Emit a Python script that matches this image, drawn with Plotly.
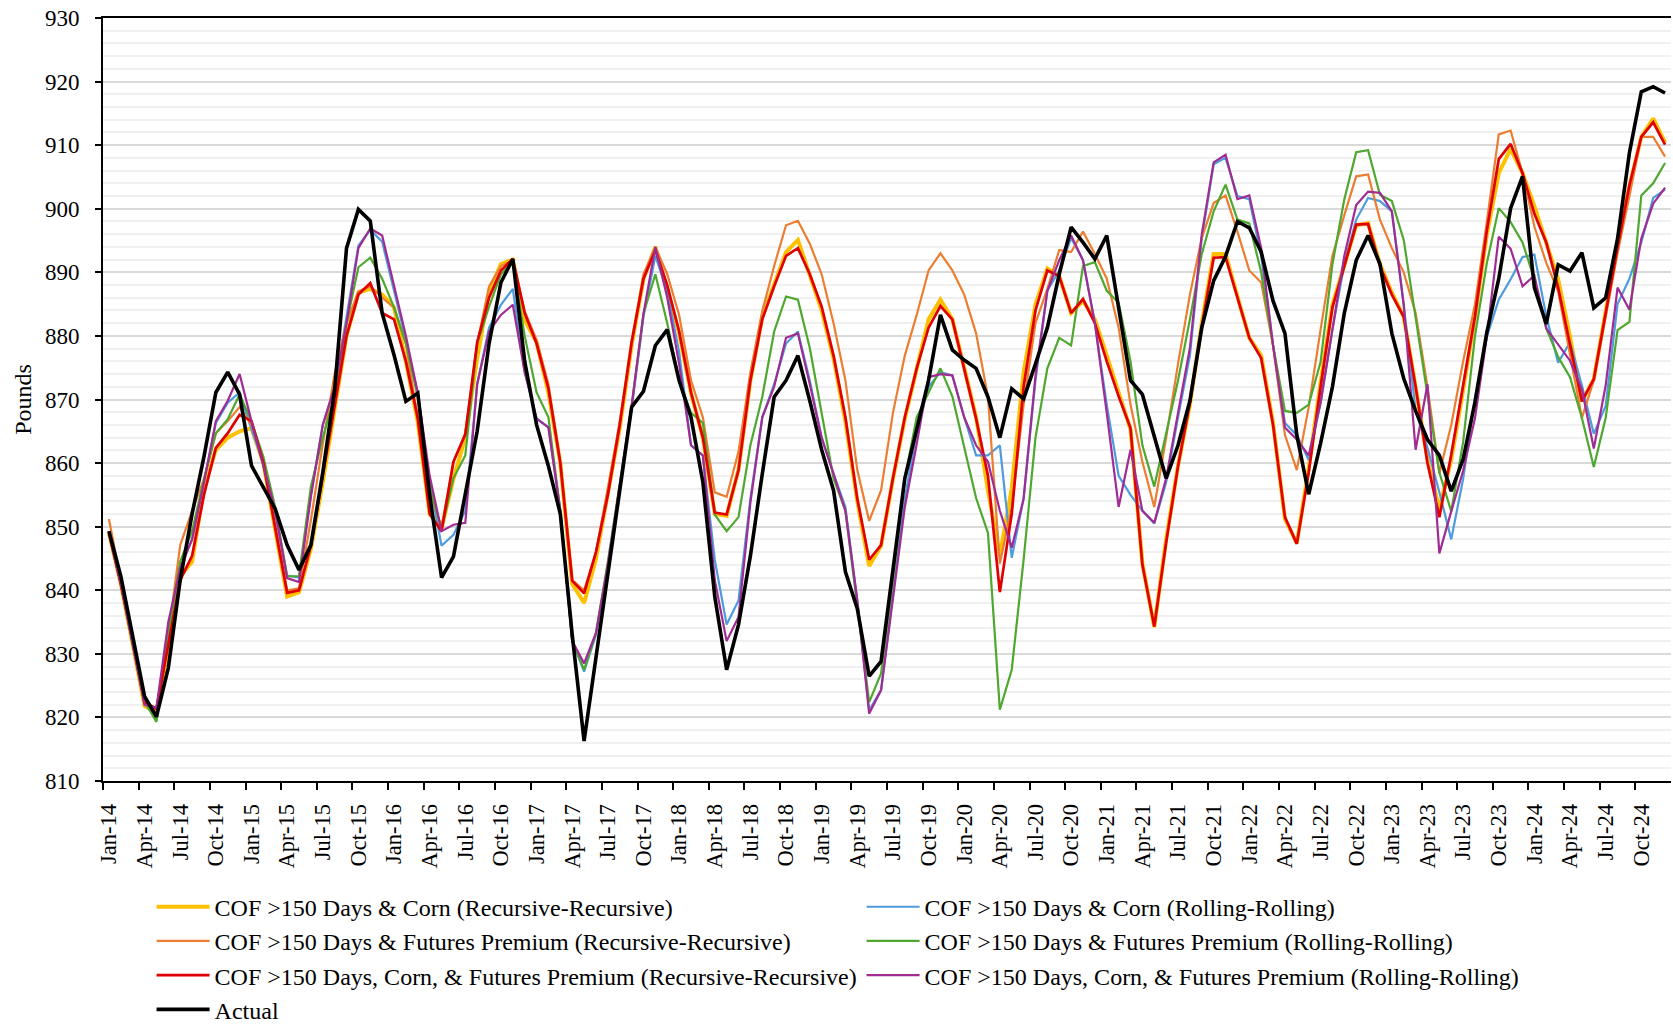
import plotly.graph_objects as go

MONTHS = ["Jan", "Feb", "Mar", "Apr", "May", "Jun", "Jul", "Aug", "Sep", "Oct", "Nov", "Dec"]
YEARS = list(range(2014, 2025))
month_labels = [f"{m}-{y % 100:02d}" for y in YEARS for m in MONTHS]

actual = [
    849.3, 842.2, 832.8, 823.3, 820.1, 827.8, 841.6, 852.0, 861.0, 871.1, 874.3, 870.8,
    859.6, 856.3, 852.8, 847.1, 843.2, 847.1, 858.5, 871.5, 893.8, 899.9, 898.1, 883.6,
    877.0, 869.7, 871.0, 855.0, 842.0, 845.3, 855.0, 865.0, 878.8, 888.4, 892.1, 876.0,
    866.0, 859.5, 852.0, 833.0, 816.3, 829.5, 842.5, 855.5, 868.8, 871.3, 878.5, 881.0,
    873.0, 867.2, 857.0, 839.0, 827.5, 834.6, 845.4, 858.3, 870.4, 873.0, 876.9, 869.8,
    862.1, 855.7, 842.9, 837.1, 826.5, 828.8, 843.5, 857.6, 865.3, 873.0, 883.3, 877.8,
    876.2, 874.9, 870.4, 864.0, 871.7, 870.1, 875.6, 881.3, 889.7, 897.1, 894.7, 892.1,
    895.8, 884.6, 873.0, 870.8, 864.0, 857.6, 862.8, 869.8, 881.3, 888.7, 892.5, 898.0,
    897.0, 893.2, 885.5, 880.4, 864.4, 855.1, 863.1, 872.0, 883.6, 891.9, 895.8, 891.3,
    880.4, 873.3, 868.2, 863.7, 861.2, 855.6, 860.6, 869.6, 880.6, 889.0, 900.1, 905.1,
    887.6, 881.9, 891.2, 890.2, 893.1, 884.4, 886.0, 895.3, 908.8, 918.4, 919.2, 918.2,
]

corn_rr = [
    849.0, 841.0, 831.5, 821.8, 820.8, 831.0, 842.2, 844.5, 856.0, 862.1, 864.0, 865.0,
    865.5, 860.0, 849.5, 839.0, 839.7, 846.5, 857.0, 868.5, 880.0, 886.8, 887.4, 886.5,
    884.5, 876.0, 866.5, 852.0, 849.8, 857.5, 864.0, 876.5, 887.0, 891.3, 892.0, 882.5,
    879.0, 871.0, 860.0, 841.0, 838.0, 845.0, 855.0, 865.5, 878.5, 889.0, 894.0, 887.5,
    880.5, 871.0, 864.0, 852.0, 851.7, 859.0, 873.0, 883.0, 888.0, 893.2, 895.1, 889.7,
    884.0, 876.5, 866.5, 854.0, 843.8, 847.0, 857.5, 867.0, 875.0, 882.6, 885.7, 882.6,
    875.0, 867.2, 855.7, 845.4, 856.0, 874.3, 884.9, 890.6, 889.4, 883.6, 885.5, 882.6,
    876.9, 871.1, 865.3, 844.2, 834.2, 848.0, 859.6, 869.2, 882.0, 892.9, 892.9, 886.2,
    879.7, 876.9, 866.3, 851.2, 847.4, 859.2, 872.7, 884.9, 891.3, 897.4, 897.7, 891.3,
    886.8, 883.0, 872.0, 860.5, 852.8, 860.5, 871.5, 883.0, 896.0, 905.6, 909.4, 905.6,
    900.4, 894.7, 888.9, 879.9, 869.7, 873.2, 884.0, 894.5, 903.5, 911.3, 914.2, 910.4,
]

corn_roll = [
    849.0, 841.0, 831.5, 822.0, 821.0, 834.0, 843.5, 848.0, 857.0, 866.3, 869.5, 871.1,
    865.3, 860.0, 852.0, 842.3, 842.0, 855.0, 866.0, 872.0, 883.0, 894.2, 896.7, 894.8,
    887.1, 879.4, 871.0, 857.0, 847.0, 848.7, 852.5, 872.4, 881.3, 884.9, 887.4, 874.3,
    867.0, 865.6, 852.5, 832.0, 827.2, 833.0, 844.0, 856.5, 868.5, 883.0, 892.6, 887.0,
    877.5, 862.8, 861.2, 844.8, 834.6, 838.4, 854.4, 867.2, 872.4, 878.8, 880.7, 873.0,
    864.0, 858.3, 853.1, 838.4, 821.1, 824.3, 839.7, 854.4, 865.0, 872.0, 874.3, 873.8,
    867.2, 861.2, 861.2, 862.8, 845.1, 854.4, 873.0, 887.1, 890.3, 895.4, 891.9, 882.0,
    869.2, 858.0, 855.0, 852.5, 850.5, 857.0, 867.2, 876.9, 895.4, 907.0, 908.0, 902.0,
    901.5, 892.6, 878.5, 866.3, 864.4, 860.5, 869.5, 881.0, 891.3, 898.3, 901.7, 901.2,
    899.6, 884.9, 868.2, 862.4, 855.4, 848.0, 857.5, 870.3, 879.9, 885.7, 888.9, 892.4,
    892.8, 883.1, 875.8, 879.0, 872.2, 864.6, 869.0, 885.0, 889.0, 894.7, 901.7, 903.0,
]

fp_rr = [
    851.2, 841.5, 831.5, 822.0, 821.0, 833.0, 847.1, 852.5, 857.5, 864.7, 866.6, 868.8,
    866.0, 860.5, 850.0, 840.0, 840.3, 851.0, 863.0, 874.0, 882.0, 887.0, 887.8, 886.0,
    884.5, 878.8, 867.0, 855.7, 849.9, 860.2, 864.7, 878.8, 887.8, 891.0, 891.9, 883.9,
    879.4, 872.4, 860.2, 841.6, 840.0, 846.0, 856.0, 866.5, 878.5, 889.7, 894.0, 889.7,
    883.3, 873.0, 867.2, 855.4, 854.7, 861.8, 874.3, 883.9, 891.0, 897.4, 898.1, 894.5,
    889.7, 882.0, 873.0, 858.9, 850.9, 855.7, 867.9, 876.9, 883.3, 890.3, 893.0, 890.3,
    886.5, 880.4, 870.4, 844.2, 853.1, 869.2, 882.0, 887.4, 893.5, 893.2, 896.4, 892.9,
    889.0, 881.3, 869.2, 860.2, 853.1, 864.0, 875.6, 886.5, 895.4, 900.9, 902.1, 896.4,
    890.3, 888.4, 878.5, 864.4, 858.9, 868.8, 881.0, 892.6, 899.0, 905.1, 905.4, 898.3,
    893.8, 890.0, 883.6, 872.0, 858.4, 866.0, 876.0, 885.0, 898.0, 911.7, 912.3, 905.6,
    897.2, 891.5, 887.0, 877.0, 867.1, 873.0, 883.0, 893.0, 902.0, 911.3, 911.3, 908.2,
]

fp_roll = [
    849.0, 841.0, 831.5, 822.5, 819.3, 833.0, 844.5, 849.3, 857.5, 864.7, 866.9, 870.8,
    866.6, 861.0, 853.0, 842.2, 842.2, 856.3, 864.0, 870.5, 882.0, 890.8, 892.3, 889.0,
    884.5, 878.8, 870.4, 856.3, 849.6, 857.6, 861.2, 878.8, 884.6, 889.7, 891.6, 880.0,
    871.1, 867.2, 852.5, 832.0, 827.5, 833.3, 844.5, 857.0, 869.0, 883.5, 889.7, 882.0,
    873.0, 867.9, 866.3, 851.9, 849.3, 851.5, 862.8, 870.4, 880.7, 886.2, 885.7, 878.1,
    867.9, 857.6, 852.5, 837.8, 822.4, 826.9, 841.6, 857.6, 867.2, 871.1, 874.9, 870.5,
    862.5, 854.5, 849.0, 821.2, 827.5, 844.8, 864.0, 874.9, 879.7, 878.5, 891.0, 891.6,
    887.1, 885.2, 876.0, 862.8, 856.3, 864.7, 873.0, 882.6, 892.9, 899.6, 903.8, 898.3,
    897.7, 890.0, 878.5, 868.2, 867.9, 869.2, 875.9, 891.3, 901.5, 908.9, 909.2, 902.2,
    901.2, 895.1, 883.0, 870.8, 858.5, 852.4, 863.3, 880.0, 891.5, 900.1, 897.9, 894.7,
    888.9, 881.2, 876.7, 873.5, 867.1, 859.4, 867.1, 880.9, 882.2, 902.1, 904.0, 907.2,
]

all_rr = [
    849.0, 841.0, 832.0, 822.3, 821.4, 831.5, 841.6, 845.4, 855.0, 862.4, 864.7, 867.6,
    866.6, 860.0, 850.0, 839.6, 840.0, 847.0, 858.0, 869.0, 880.0, 886.5, 888.3, 883.6,
    882.6, 876.0, 867.0, 852.0, 849.3, 860.2, 864.5, 879.0, 886.0, 890.3, 892.1, 883.6,
    878.8, 871.7, 860.0, 841.5, 839.5, 846.0, 855.0, 866.0, 879.0, 889.0, 893.5, 888.0,
    880.7, 871.1, 864.0, 852.2, 851.9, 858.9, 873.0, 882.6, 887.8, 892.6, 893.8, 889.7,
    884.6, 876.9, 867.2, 854.4, 844.8, 847.1, 857.6, 867.2, 874.9, 881.3, 884.7, 882.6,
    875.0, 867.0, 858.0, 839.7, 852.0, 872.0, 884.0, 890.3, 889.4, 883.6, 885.8, 882.0,
    876.0, 870.5, 865.5, 844.0, 834.3, 847.5, 859.5, 869.5, 881.5, 892.3, 892.4, 886.0,
    879.7, 876.5, 866.0, 851.5, 847.3, 858.5, 872.0, 884.5, 891.0, 897.5, 897.6, 891.0,
    886.5, 883.0, 872.0, 860.0, 851.5, 861.3, 872.2, 883.1, 896.6, 907.8, 910.2, 905.6,
    899.2, 894.7, 887.6, 878.7, 869.7, 873.2, 883.8, 894.0, 903.7, 911.3, 913.6, 910.1,
]

all_roll = [
    849.0, 841.0, 831.5, 822.0, 821.5, 835.0, 843.5, 848.0, 857.0, 866.6, 869.8, 874.0,
    866.6, 859.6, 852.5, 841.9, 841.3, 854.7, 866.0, 872.0, 882.0, 893.8, 896.9, 895.8,
    887.8, 880.0, 871.0, 858.0, 849.3, 850.3, 850.6, 872.4, 880.7, 883.3, 884.9, 874.3,
    867.0, 865.6, 852.5, 832.0, 828.5, 833.3, 844.0, 856.5, 869.0, 883.5, 894.0, 886.0,
    875.6, 862.8, 861.2, 841.6, 832.0, 835.8, 853.8, 867.2, 872.0, 879.7, 880.4, 872.4,
    864.0, 858.3, 852.5, 838.4, 820.6, 824.3, 838.4, 853.1, 863.0, 873.5, 874.0, 873.8,
    867.2, 862.8, 860.2, 852.5, 846.7, 854.4, 873.7, 887.1, 891.9, 895.8, 891.9, 882.0,
    867.9, 853.1, 862.1, 852.5, 850.6, 857.6, 867.9, 878.1, 896.0, 907.3, 908.5, 901.5,
    902.1, 893.8, 878.5, 865.6, 863.7, 861.2, 869.5, 881.0, 892.6, 900.6, 902.7, 902.5,
    899.6, 884.9, 862.1, 872.4, 845.8, 852.4, 858.8, 867.1, 880.0, 895.6, 893.7, 887.8,
    889.5, 881.2, 878.7, 876.1, 871.6, 862.3, 872.2, 887.6, 884.1, 895.3, 900.8, 903.3,
]

FONT = "Liberation Serif, Times New Roman, serif"
x = list(range(len(month_labels)))

series = [
    # name, values, color, width, legend rank
    ("COF >150 Days & Corn (Recursive-Recursive)", corn_rr, "#FFC000", 4.0, 1),
    ("COF >150 Days & Corn (Rolling-Rolling)", corn_roll, "#4E9BDD", 2.2, 2),
    ("COF >150 Days & Futures Premium (Recursive-Recursive)", fp_rr, "#ED7D31", 2.2, 3),
    ("COF >150 Days & Futures Premium (Rolling-Rolling)", fp_roll, "#4EA72E", 2.2, 4),
    ("COF >150 Days, Corn, & Futures Premium (Recursive-Recursive)", all_rr, "#E00000", 2.7, 5),
    ("COF >150 Days, Corn, & Futures Premium (Rolling-Rolling)", all_roll, "#A02B93", 2.2, 6),
    ("Actual", actual, "#000000", 3.6, 7),
]

fig = go.Figure()
for name, vals, color, width, rank in series:
    fig.add_trace(go.Scatter(
        x=x, y=vals, mode="lines", name=name,
        line=dict(color=color, width=width),
        legendrank=rank,
    ))

tick_idx = list(range(0, len(month_labels), 3))
fig.update_layout(
    width=1673, height=1024,
    margin=dict(l=103, r=2, t=18, b=243),
    paper_bgcolor="white", plot_bgcolor="white",
    font=dict(family=FONT, size=23, color="black"),
    showlegend=True,
    legend=dict(
        orientation="h", xref="container", yref="container",
        x=0.0906, xanchor="left", y=0.1361, yanchor="top",
        entrywidth=642, entrywidthmode="pixels",
        font=dict(family=FONT, size=24, color="black"),
        tracegroupgap=0, itemwidth=53,
        bgcolor="rgba(0,0,0,0)",
    ),
    xaxis=dict(
        range=[-0.5, len(month_labels) - 0.5],
        tickmode="array", tickvals=tick_idx,
        ticktext=[month_labels[i] for i in tick_idx],
        tickangle=-90, ticks="outside", ticklen=12, tickcolor="rgba(0,0,0,0)",
        showgrid=False, zeroline=False, automargin=False,
        ticklabeloverflow="allow",
        showline=True, linecolor="black", linewidth=2, mirror=True,
        tickfont=dict(family=FONT, size=22.5, color="black"),
        minor=dict(tickvals=[i - 0.5 for i in tick_idx], ticks="outside",
                   ticklen=7, tickwidth=1.5, tickcolor="black", showgrid=False),
    ),
    yaxis=dict(
        range=[810, 930], dtick=10, tick0=810,
        showgrid=True, gridcolor="#D9D9D9", gridwidth=1.5,
        zeroline=False, showline=True, linecolor="black", linewidth=2,
        ticks="outside", ticklen=6, tickwidth=1.5, tickcolor="black",
        ticklabelstandoff=11, automargin=False, ticklabeloverflow="allow",
        tickfont=dict(family=FONT, size=23, color="black"),
        title=dict(text="Pounds", font=dict(family=FONT, size=24, color="black"), standoff=7),
        minor=dict(dtick=2, showgrid=True, gridcolor="#F0F0F0", gridwidth=1.5, ticks=""),
    ),
)

fig.write_html(
    "out.html",
    config={"displayModeBar": False},
    post_script="document.body.style.margin='0';document.body.style.overflow='hidden';",
)
